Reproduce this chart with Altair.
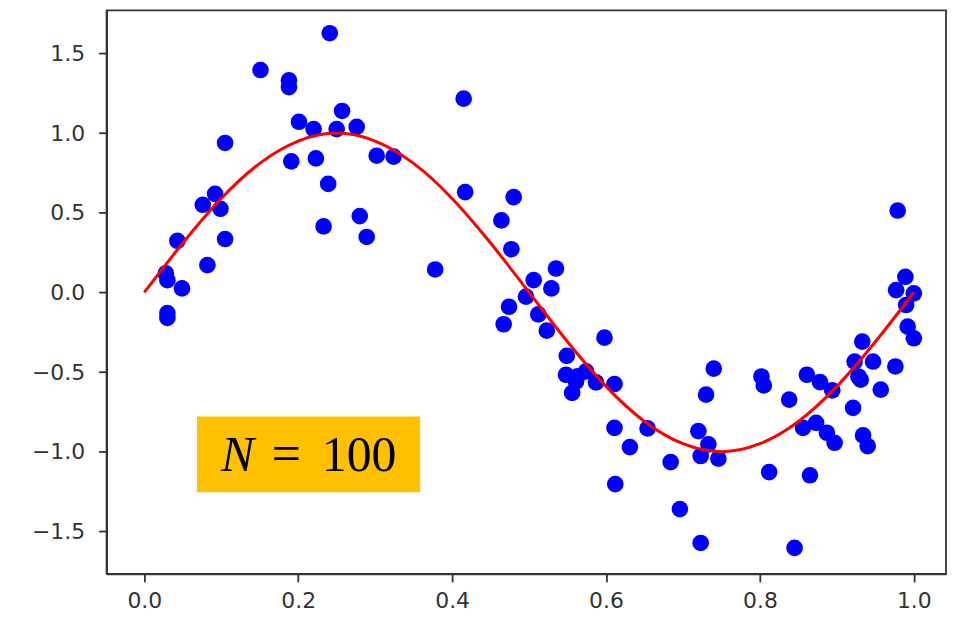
import altair as alt
import pandas as pd

# Scatter samples
point_x = [0.241, 0.151, 0.188, 0.188, 0.257, 0.201, 0.220, 0.250, 0.276, 0.105,
           0.191, 0.223, 0.302, 0.324, 0.239, 0.092, 0.076, 0.099, 0.233, 0.280,
           0.289, 0.043, 0.105, 0.082, 0.028, 0.030, 0.049, 0.030, 0.030,
           0.415, 0.417, 0.480, 0.464, 0.477, 0.378, 0.535, 0.506, 0.529, 0.496,
           0.474, 0.512, 0.467, 0.523,
           0.598, 0.549, 0.548, 0.563, 0.574, 0.556, 0.587, 0.611, 0.561, 0.611,
           0.654, 0.631, 0.684, 0.612, 0.696,
           0.979, 0.989, 0.977, 1.000, 0.990, 0.992, 1.000, 0.933, 0.923, 0.947,
           0.928, 0.931, 0.976, 0.957, 0.921,
           0.740, 0.730, 0.802, 0.805, 0.838, 0.861, 0.878, 0.894, 0.720, 0.733,
           0.856, 0.873, 0.887, 0.897, 0.934, 0.940,
           0.723, 0.746, 0.812, 0.865, 0.723, 0.845]
point_y = [1.627, 1.396, 1.331, 1.289, 1.139, 1.071, 1.025, 1.025, 1.039, 0.938,
           0.823, 0.841, 0.858, 0.852, 0.681, 0.619, 0.550, 0.525, 0.414, 0.479,
           0.348, 0.323, 0.335, 0.171, 0.119, 0.077, 0.025, -0.130, -0.160,
           1.216, 0.629, 0.598, 0.452, 0.271, 0.144, 0.150, 0.077, 0.025, -0.027,
           -0.090, -0.138, -0.200, -0.240,
           -0.284, -0.398, -0.517, -0.527, -0.496, -0.631, -0.565, -0.575, -0.560, -0.850,
           -0.854, -0.971, -1.065, -1.204, -1.360,
           0.514, 0.098, 0.014, -0.006, -0.079, -0.215, -0.288, -0.309, -0.434, -0.434,
           -0.528, -0.548, -0.465, -0.610, -0.725,
           -0.479, -0.642, -0.528, -0.584, -0.673, -0.517, -0.563, -0.615, -0.871, -0.954,
           -0.850, -0.819, -0.881, -0.944, -0.898, -0.965,
           -1.027, -1.044, -1.128, -1.148, -1.573, -1.604]

# Red curve
curve_x = [0.00, 0.05, 0.10, 0.15, 0.20, 0.25, 0.30, 0.35, 0.40, 0.45, 0.50,
           0.55, 0.60, 0.65, 0.70, 0.75, 0.80, 0.85, 0.90, 0.95, 1.00]
curve_y = [0.00, 0.31, 0.59, 0.81, 0.95, 1.00, 0.95, 0.81, 0.59, 0.31, 0.00,
           -0.31, -0.59, -0.81, -0.95, -1.00, -0.95, -0.81, -0.59, -0.31, 0.00]

x_ticks = [0.0, 0.2, 0.4, 0.6, 0.8, 1.0]
y_ticks = [-1.5, -1.0, -0.5, 0.0, 0.5, 1.0, 1.5]

# Annotation box (data units)
box_x = [0.0686]
box_x2 = [0.3585]
box_y = [-0.779]
box_y2 = [-1.254]
label_parts = ["N", "=", "100"]
label_x = [0.0997, 0.1847, 0.2307]
label_y = [-1.12, -1.12, -1.12]

points = pd.DataFrame({"x": point_x, "y": point_y})
curve = pd.DataFrame({"x": curve_x, "y": curve_y})
box = pd.DataFrame({"x": box_x, "x2": box_x2, "y": box_y, "y2": box_y2})
labels = pd.DataFrame({"t": label_parts, "x": label_x, "y": label_y})

xscale = alt.Scale(domain=[-0.049, 1.0418], nice=False, zero=False)
yscale = alt.Scale(domain=[-1.767, 1.771], nice=False, zero=False)
xaxis = alt.Axis(values=x_ticks, format=".1f", title=None, labelPadding=9)
yaxis = alt.Axis(values=y_ticks, format=".1f", title=None, labelPadding=14)

X = alt.X("x:Q", scale=xscale, axis=xaxis)
Y = alt.Y("y:Q", scale=yscale, axis=yaxis)

scatter = alt.Chart(points).mark_circle(color="#0000ff", opacity=1, size=280).encode(x=X, y=Y)
line = alt.Chart(curve).mark_line(color="#ff0000", strokeWidth=3, interpolate="natural").encode(
    x="x:Q", y="y:Q")
rect = alt.Chart(box).mark_rect(color="#FFC000", opacity=1).encode(
    x="x:Q", x2="x2:Q", y="y:Q", y2="y2:Q")
txt_n = alt.Chart(labels[labels.t == "N"]).mark_text(
    font="Liberation Serif", fontStyle="italic", fontSize=50, align="left",
    baseline="alphabetic", color="black").encode(x="x:Q", y="y:Q", text="t:N")
txt_eq = alt.Chart(labels[labels.t == "="]).mark_text(
    font="Liberation Serif", fontSize=52, align="center",
    baseline="alphabetic", color="black").encode(x="x:Q", y="y:Q", text="t:N")
txt_num = alt.Chart(labels[labels.t == "100"]).mark_text(
    font="Liberation Serif", fontSize=50, align="left",
    baseline="alphabetic", color="black").encode(x="x:Q", y="y:Q", text="t:N")

chart = alt.layer(scatter, line, rect, txt_n, txt_eq, txt_num).properties(
    width=843, height=566,
    autosize=alt.AutoSizeParams(type="none"),
    padding={"left": 99, "top": 1, "right": 2, "bottom": 40},
    background="white",
).configure_axis(
    labelFont="DejaVu Sans", labelFontSize=22, labelColor="#333",
    tickColor="#333", domainColor="#333", tickSize=8, tickWidth=1.8,
    domainWidth=1.8, grid=False,
).configure_view(stroke="#333", strokeWidth=1.8)

chart.save("out.html", embed_options={"renderer": "svg", "actions": False})
